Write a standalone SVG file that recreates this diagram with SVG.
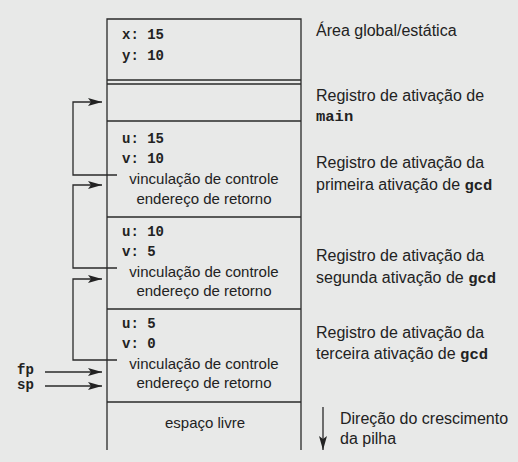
<svg xmlns="http://www.w3.org/2000/svg" width="518" height="462" viewBox="0 0 518 462">
<style>
.ln{stroke:#2a2a2a;stroke-width:1.3;fill:none}
.mono{font-family:"Liberation Mono",monospace;font-weight:bold;fill:#222}
.sans{font-family:"Liberation Sans",Arial,sans-serif;fill:#222}
.cell{font-size:15px}
.lab{font-size:16px}
</style>
<defs>
<marker id="ah" viewBox="0 0 14 8" refX="14" refY="4" markerWidth="14" markerHeight="8" markerUnits="userSpaceOnUse" orient="auto">
<path d="M0,0 L14,4 L0,8 L3,4 Z" fill="#222"/>
</marker>
</defs>
<rect width="518" height="462" fill="#e8e9e8"/>
<g id="stack">
<path class="ln" d="M107,450 V19 H301 V450"/>
<line class="ln" x1="107" y1="80" x2="301" y2="80"/>
<line class="ln" x1="107" y1="84" x2="301" y2="84"/>
<line class="ln" x1="107" y1="121" x2="301" y2="121"/>
<line class="ln" x1="107" y1="217" x2="301" y2="217"/>
<line class="ln" x1="107" y1="309" x2="301" y2="309"/>
<line class="ln" x1="107" y1="402" x2="301" y2="402"/>
</g>
<g id="global">
<text class="mono" font-size="14" x="122" y="39">x: 15</text>
<text class="mono" font-size="14" x="122" y="60">y: 10</text>
</g>
<g id="gcd1">
<text class="mono" font-size="14" x="122" y="143">u: 15</text>
<text class="mono" font-size="14" x="122" y="163">v: 10</text>
<text class="sans cell" x="204" y="184" text-anchor="middle">vinculação de controle</text>
<text class="sans cell" x="204" y="204" text-anchor="middle">endereço de retorno</text>
</g>
<g id="gcd2">
<text class="mono" font-size="14" x="122" y="236">u: 10</text>
<text class="mono" font-size="14" x="122" y="256">v: 5</text>
<text class="sans cell" x="204" y="277" text-anchor="middle">vinculação de controle</text>
<text class="sans cell" x="204" y="296" text-anchor="middle">endereço de retorno</text>
</g>
<g id="gcd3">
<text class="mono" font-size="14" x="122" y="328">u: 5</text>
<text class="mono" font-size="14" x="122" y="348">v: 0</text>
<text class="sans cell" x="204" y="369" text-anchor="middle">vinculação de controle</text>
<text class="sans cell" x="204" y="388" text-anchor="middle">endereço de retorno</text>
</g>
<g id="free">
<text class="sans cell" x="205" y="428" text-anchor="middle">espaço livre</text>
</g>
<g id="labels">
<text class="sans lab" x="316" y="36">Área global/estática</text>
<text class="sans lab" x="316" y="101">Registro de ativação de</text>
<text class="mono" font-size="15.5" x="316" y="121">main</text>
<text class="sans lab" x="316" y="168">Registro de ativação da</text>
<text class="sans lab" x="316" y="190">primeira ativação de <tspan class="mono" font-size="15.5">gcd</tspan></text>
<text class="sans lab" x="316" y="261">Registro de ativação da</text>
<text class="sans lab" x="316" y="283">segunda ativação de <tspan class="mono" font-size="15.5">gcd</tspan></text>
<text class="sans lab" x="316" y="338">Registro de ativação da</text>
<text class="sans lab" x="316" y="359">terceira ativação de <tspan class="mono" font-size="15.5">gcd</tspan></text>
<text class="sans lab" x="340" y="424">Direção do crescimento</text>
<text class="sans lab" x="340" y="444">da pilha</text>
<text class="mono" font-size="14" x="17" y="374">fp</text>
<text class="mono" font-size="14" x="17" y="389">sp</text>
</g>
<g id="connectors">
<path class="ln" d="M117,175 H73 V102 H102" marker-end="url(#ah)"/>
<path class="ln" d="M117,268 H73 V185 H102" marker-end="url(#ah)"/>
<path class="ln" d="M117,360 H73 V279 H102" marker-end="url(#ah)"/>
<line class="ln" x1="45" y1="372" x2="102" y2="372" marker-end="url(#ah)"/>
<line class="ln" x1="45" y1="386" x2="102" y2="386" marker-end="url(#ah)"/>
<line class="ln" x1="323" y1="407" x2="323" y2="450" marker-end="url(#ah)"/>
</g>
</svg>
